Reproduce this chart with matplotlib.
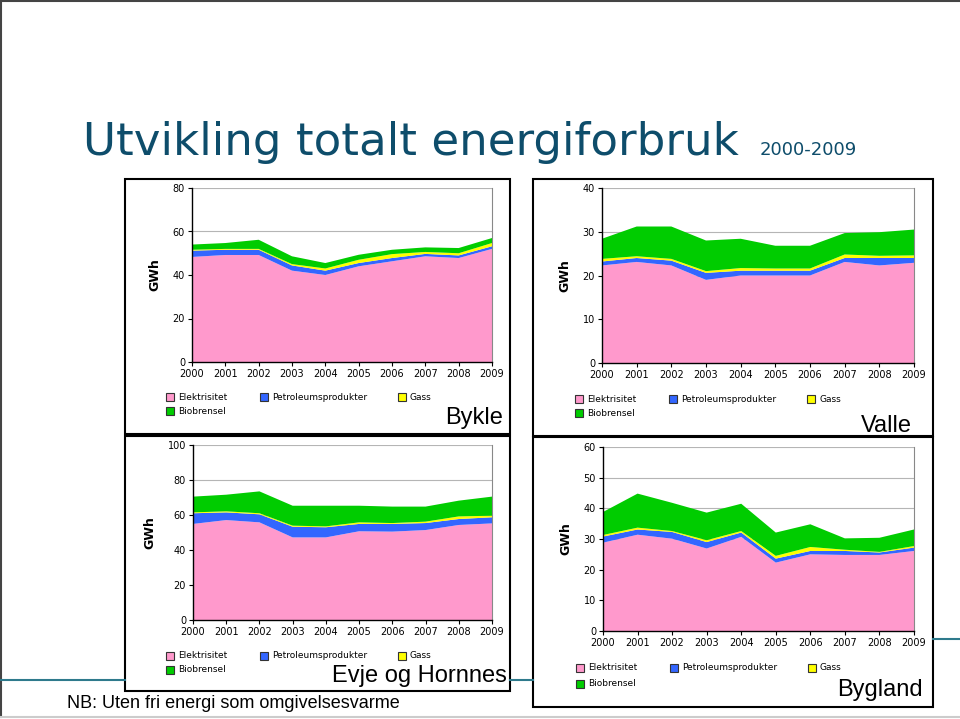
import matplotlib
matplotlib.use("Agg")
import matplotlib.pyplot as plt
from matplotlib.patches import Rectangle
from matplotlib.lines import Line2D

W, H = 960, 719

years = [2000, 2001, 2002, 2003, 2004, 2005, 2006, 2007, 2008, 2009]
series_names = ["Elektrisitet", "Petroleumsprodukter", "Gass", "Biobrensel"]
colors = ["#FF99CC", "#3366FF", "#FFFF00", "#00CC00"]

# GWh per energy carrier
bykle_el = [48.3, 49.2, 49.2, 42.0, 40.0, 44.0, 46.3, 48.6, 47.8, 52.0]
bykle_pet = [2.9, 2.4, 2.4, 2.4, 2.0, 1.5, 1.5, 1.1, 1.2, 1.2]
bykle_gass = [0.4, 0.4, 0.4, 0.6, 1.0, 1.5, 1.8, 0.9, 1.0, 1.5]
bykle_bio = [2.4, 2.7, 4.2, 3.6, 2.5, 2.3, 2.0, 2.1, 2.4, 2.3]

valle_el = [22.3, 23.1, 22.3, 19.0, 20.0, 20.0, 20.0, 23.1, 22.3, 22.9]
valle_pet = [0.9, 0.9, 1.1, 1.6, 1.1, 1.1, 1.1, 0.9, 1.7, 1.1]
valle_gass = [0.6, 0.4, 0.4, 0.4, 0.6, 0.5, 0.5, 0.8, 0.5, 0.6]
valle_bio = [4.6, 6.8, 7.4, 7.0, 6.7, 5.2, 5.2, 4.9, 5.4, 5.9]

evje_el = [54.9, 57.1, 55.8, 47.2, 47.2, 50.7, 50.5, 51.4, 54.3, 55.2]
evje_pet = [6.1, 4.4, 4.6, 6.1, 5.8, 4.2, 4.4, 4.0, 3.4, 3.5]
evje_gass = [0.5, 0.6, 0.6, 0.6, 0.5, 0.9, 0.5, 0.8, 1.5, 0.9]
evje_bio = [9.0, 9.5, 12.5, 11.4, 11.8, 9.5, 9.4, 8.6, 9.0, 10.9]

bygland_el = [28.8, 31.4, 30.1, 26.9, 30.7, 22.3, 25.0, 24.8, 24.8, 26.1]
bygland_pet = [2.0, 1.7, 2.2, 2.1, 1.4, 1.3, 1.1, 1.3, 0.8, 1.1]
bygland_gass = [0.5, 0.6, 0.3, 0.6, 0.5, 0.9, 1.3, 0.4, 0.2, 0.5]
bygland_bio = [7.5, 11.1, 9.2, 9.0, 8.9, 7.6, 7.4, 3.7, 4.6, 5.4]


def fx(x):
    return x / W


def fy(y):
    return 1 - y / H


fig = plt.figure(figsize=(9.6, 7.19), dpi=100)
fig.patch.set_facecolor("white")

# slide frame and the teal rule
fig.add_artist(Line2D([fx(1), fx(1)], [fy(0), fy(717)], color="#444444", lw=1.5))
fig.add_artist(Line2D([fx(0), fx(960)], [fy(1), fy(1)], color="#444444", lw=1.5))
fig.add_artist(Line2D([fx(0), fx(960)], [fy(717), fy(717)], color="#cccccc", lw=1.5))
fig.add_artist(Line2D([fx(0), fx(125)], [fy(680), fy(680)], color="#2E7A8C", lw=1.5))
fig.add_artist(Line2D([fx(510), fx(533)], [fy(680), fy(680)], color="#2E7A8C", lw=1.5))
fig.add_artist(Line2D([fx(933), fx(960)], [fy(639), fy(639)], color="#2E7A8C", lw=1.5))

fig.text(fx(83), fy(155), "Utvikling totalt energiforbruk", fontsize=32.5,
         color="#0E4D6B", family="DejaVu Sans", va="baseline", ha="left")
fig.text(fx(760), fy(155), "2000-2009", fontsize=13, color="#0E4D6B",
         family="DejaVu Sans", va="baseline", ha="left")
fig.text(fx(67), fy(704), "NB: Uten fri energi som omgivelsesvarme", fontsize=13,
         family="Liberation Sans", va="center", ha="left")


def panel(box, axbox, data, ymax, ystep, name, name_pos, leg_x, leg_y, leg_dy):
    bl, bt, br, bb = box
    fig.add_artist(Rectangle((fx(bl), fy(bb)), (br - bl) / W, (bb - bt) / H,
                             fill=False, edgecolor="black", lw=1.5))
    l, t, r, b = axbox
    ax = fig.add_axes([fx(l), fy(b), (r - l) / W, (b - t) / H])
    ax.stackplot(years, *data, colors=colors, linewidth=0)
    ax.set_xlim(2000, 2009)
    ax.set_ylim(0, ymax)
    ax.set_xticks(years)
    ax.set_yticks(range(0, ymax + 1, ystep))
    ax.yaxis.grid(True, color="#b5b5b5", lw=0.8)
    ax.set_axisbelow(True)
    ax.spines["top"].set_visible(False)
    ax.spines["right"].set_color("#888888")
    ax.spines["right"].set_linewidth(0.8)
    for s in ["left", "bottom"]:
        ax.spines[s].set_linewidth(1.0)
    ax.tick_params(labelsize=7, length=3, width=0.8, pad=2)
    ax.set_ylabel("GWh", fontsize=9, fontweight="bold", labelpad=8)

    # legend drawn as little squares with names: (column, row)
    cells = [(0, 0), (1, 0), (2, 0), (0, 1)]
    offs = [0, 94, 232]
    for i, lab in enumerate(series_names):
        c, rrow = cells[i]
        mx = leg_x + offs[c]
        my = leg_y + rrow * leg_dy
        fig.add_artist(Rectangle((fx(mx - 4), fy(my + 4)), 8 / W, 8 / H,
                                 facecolor=colors[i], edgecolor="#333333", lw=0.8))
        fig.text(fx(mx + 8), fy(my), lab, fontsize=6.5, va="center", ha="left")

    fig.text(fx(name_pos[0]), fy(name_pos[1]), name, fontsize=17,
             family="Liberation Sans", ha="right", va="center")
    return ax


panel((125, 179, 510, 434), (192, 188, 492, 362),
      [bykle_el, bykle_pet, bykle_gass, bykle_bio], 80, 20,
      "Bykle", (503, 418), 170, 397, 14)
panel((533, 179, 933, 436), (602, 188, 914, 363),
      [valle_el, valle_pet, valle_gass, valle_bio], 40, 10,
      "Valle", (912, 426), 579, 399, 14)
panel((125, 436, 510, 691), (193, 445, 492, 620),
      [evje_el, evje_pet, evje_gass, evje_bio], 100, 20,
      "Evje og Hornnes", (507, 676), 170, 656, 14)
panel((533, 437, 933, 707), (603, 447, 914, 631),
      [bygland_el, bygland_pet, bygland_gass, bygland_bio], 60, 10,
      "Bygland", (923, 690), 580, 668, 16)

plt.savefig("out.png", dpi=100)
